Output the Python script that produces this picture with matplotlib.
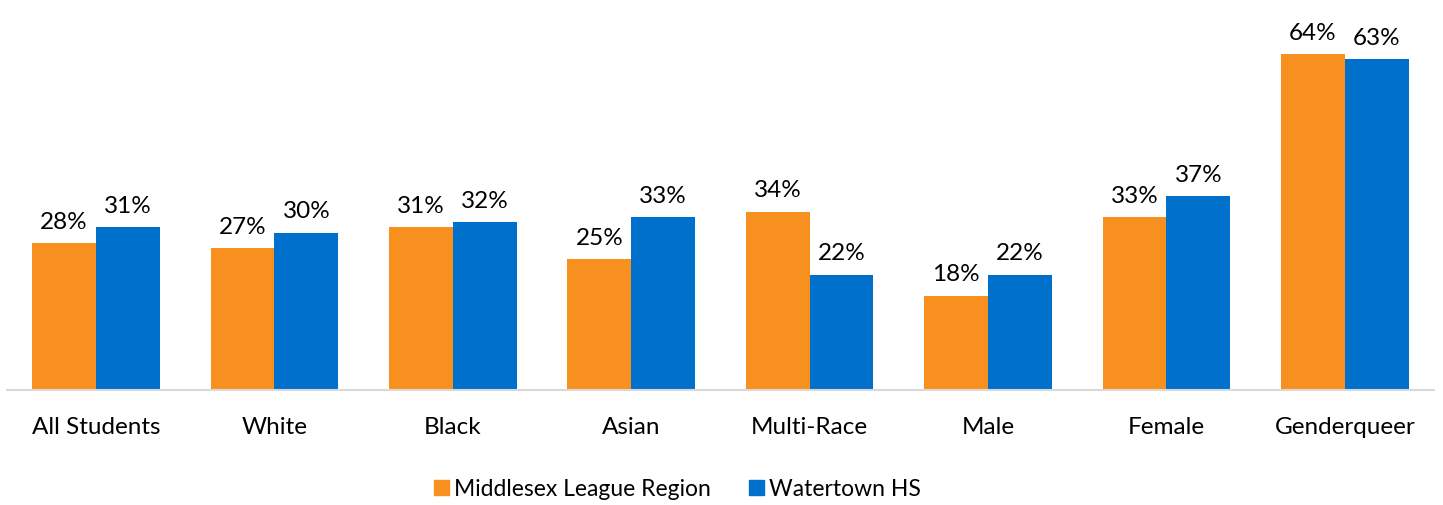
import matplotlib.pyplot as plt
import numpy as np
from matplotlib.patches import Patch

categories = ["All Students", "White", "Black", "Asian", "Multi-Race",
              "Male", "Female", "Genderqueer"]
middlesex = [28, 27, 31, 25, 34, 18, 33, 64]
watertown = [31, 30, 32, 33, 22, 22, 37, 63]
series_names = ["Middlesex League Region", "Watertown HS"]

ORANGE = "#F7901E"
BLUE = "#0070CD"

plt.rcParams["font.family"] = ["Lato", "DejaVu Sans"]

W, H = 1443, 506
fig = plt.figure(figsize=(W / 100, H / 100), dpi=100)
base = 391
top_px = base - 70 * 5.25
ax = fig.add_axes([6.8 / W, (H - base) / H, (1434 - 6.8) / W, (base - top_px) / H])

x = np.arange(len(categories))
bw = 0.358
b1 = ax.bar(x - bw / 2, middlesex, bw, color=ORANGE)
b2 = ax.bar(x + bw / 2, watertown, bw, color=BLUE)

for bars, vals in ((b1, middlesex), (b2, watertown)):
    for r, v in zip(bars, vals):
        ax.annotate(f"{v}%", (r.get_x() + r.get_width() / 2, r.get_height()),
                    xytext=(0, 8), textcoords="offset points",
                    ha="center", va="bottom", fontsize=17.5, color="black")

ax.set_xlim(-0.5, len(categories) - 0.5)
ax.set_ylim(0, 70)
ax.set_xticks(x)
ax.set_xticklabels(categories, fontsize=17.5)
ax.tick_params(axis="x", length=0, pad=19)
ax.set_yticks([])
for s in ["top", "right", "left"]:
    ax.spines[s].set_visible(False)
ax.spines["bottom"].set_color("#D9D9D9")
ax.spines["bottom"].set_linewidth(1.5)

handles = [Patch(color=ORANGE), Patch(color=BLUE)]
fig.legend(handles, series_names, loc="center",
           bbox_to_anchor=(677.5 / W, 1 - 490 / H), ncol=2, frameon=False,
           fontsize=16.5, handlelength=0.65, handleheight=0.65,
           handletextpad=0.2, columnspacing=1.7)

fig.savefig("out.png", dpi=100)
